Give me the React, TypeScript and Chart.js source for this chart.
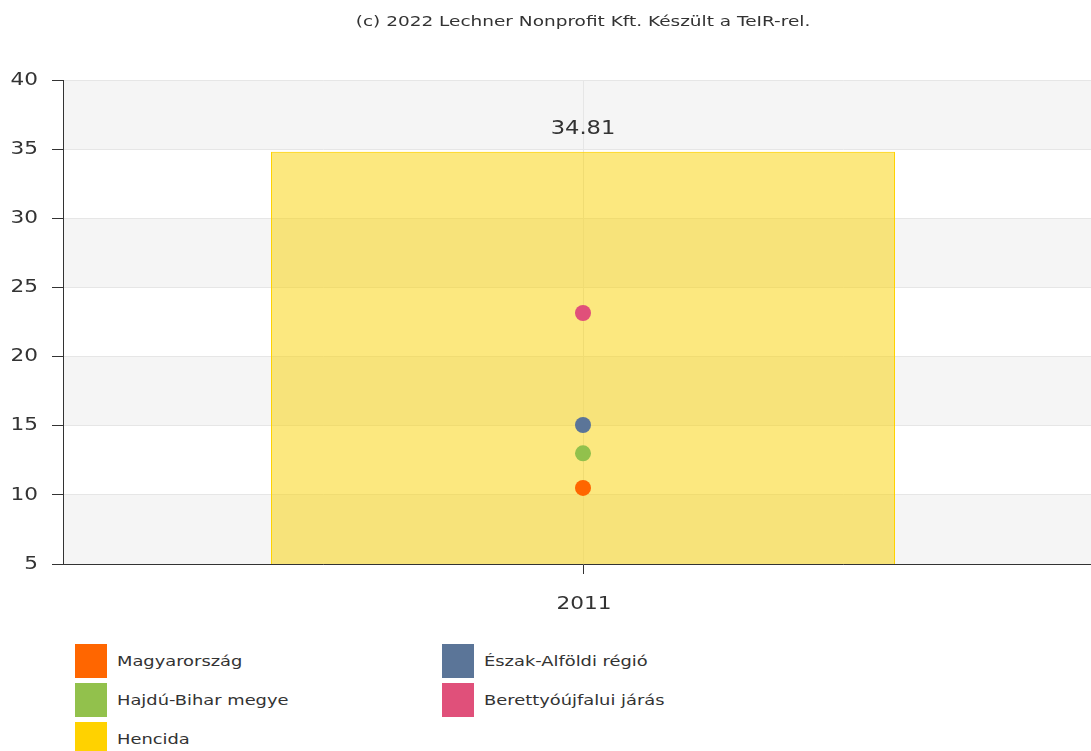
import React, { useEffect, useRef } from "react";
import { Chart, registerables } from "chart.js";

Chart.register(...registerables);

const categories = ["2011"];
const henicda = [34.81];
const magyarorszag = [10.5];
const hajduBihar = [13.0];
const eszakAlfold = [15.05];
const berettyo = [23.15];
const yTicks = [5, 10, 15, 20, 25, 30, 35, 40];
const titleText = "(c) 2022 Lechner Nonprofit Kft. Készült a TeIR-rel.";

const legendItems = [
  { label: "Magyarország", color: "#ff6600" },
  { label: "Észak-Alföldi régió", color: "#5b7598" },
  { label: "Hajdú-Bihar megye", color: "#92c14c" },
  { label: "Berettyóújfalui járás", color: "#e0507a" },
  { label: "Hencida", color: "#ffd200" },
];

const FONT = "DejaVu Sans";

function wideText(ctx: CanvasRenderingContext2D, text: string, x: number, y: number, sx: number, align: CanvasTextAlign) {
  ctx.save();
  ctx.translate(x, y);
  ctx.scale(sx, 1);
  ctx.textAlign = align;
  ctx.textBaseline = "middle";
  ctx.fillText(text, 0, 0);
  ctx.restore();
}

export default function App() {
  const ref = useRef<HTMLCanvasElement>(null);

  useEffect(() => {
    if (!ref.current) return;
    const bands = {
      id: "bands",
      beforeDraw(chart: any) {
        const { ctx, chartArea } = chart;
        const y = chart.scales.y;
        ctx.save();
        ctx.fillStyle = "#f5f5f5";
        for (let i = 0; i < yTicks.length - 1; i += 2) {
          const top = y.getPixelForValue(yTicks[i + 1]);
          const bot = y.getPixelForValue(yTicks[i]);
          ctx.fillRect(chartArea.left, top, chartArea.right - chartArea.left, bot - top);
        }
        ctx.restore();
      },
    };
    const labels = {
      id: "labels",
      afterDatasetsDraw(chart: any) {
        const { ctx, chartArea } = chart;
        const xs = chart.scales.x;
        const ys = chart.scales.y;
        ctx.save();
        ctx.fillStyle = "#333";
        ctx.font = `14px "${FONT}"`;
        wideText(ctx, titleText, (chartArea.left + chartArea.right) / 2, 22, 1.32, "center");
        ctx.font = `18px "${FONT}"`;
        ys.ticks.forEach((t: any) => {
          wideText(ctx, String(t.value), 38, ys.getPixelForValue(t.value), 1.2, "right");
        });
        categories.forEach((c, i) => {
          wideText(ctx, c, xs.getPixelForValue(i) + 1, 604, 1.2, "center");
        });
        const meta = chart.getDatasetMeta(0);
        ctx.font = `19px "${FONT}"`;
        meta.data.forEach((bar: any, i: number) => {
          wideText(ctx, henicda[i].toFixed(2), bar.x, bar.y - 23, 1.19, "center");
        });
        ctx.restore();
      },
    };
    const pointDs = (label: string, data: number[], color: string) => ({
      type: "line" as const,
      label,
      data,
      showLine: false,
      pointRadius: 8,
      pointHoverRadius: 8,
      pointBackgroundColor: color,
      pointBorderWidth: 0,
      borderColor: color,
      backgroundColor: color,
      order: 1,
    });
    const chart = new Chart(ref.current, {
      type: "bar",
      data: {
        labels: categories,
        datasets: [
          {
            type: "bar",
            label: "Hencida",
            data: henicda,
            backgroundColor: "rgba(250,210,0,0.5)",
            borderColor: "#ffd200",
            borderWidth: 1,
            barPercentage: 0.6,
            categoryPercentage: 1,
            order: 2,
          } as any,
          pointDs("Magyarország", magyarorszag, "#ff6600"),
          pointDs("Hajdú-Bihar megye", hajduBihar, "#92c14c"),
          pointDs("Észak-Alföldi régió", eszakAlfold, "#5b7598"),
          pointDs("Berettyóújfalui járás", berettyo, "#e0507a"),
        ],
      },
      options: {
        responsive: false,
        maintainAspectRatio: false,
        animation: false,
        layout: { padding: { top: 80, left: 0, right: 63, bottom: 0 } },
        plugins: { legend: { display: false }, tooltip: { enabled: false }, title: { display: false } },
        scales: {
          x: {
            offset: true,
            grid: { offset: false, color: "#e6e6e6", tickColor: "#333", tickLength: 10 },
            border: { display: true, color: "#333", width: 1 },
            ticks: { display: false },
            afterFit(scale: any) {
              scale.height = 66;
            },
          },
          y: {
            min: 5,
            max: 40,
            ticks: { stepSize: 5, display: false },
            grid: { color: "#e6e6e6", tickColor: "#333", tickLength: 11 },
            border: { display: true, color: "#333", width: 1 },
            afterFit(scale: any) {
              scale.width = 63;
            },
          },
        },
      },
      plugins: [bands, labels],
    });
    return () => chart.destroy();
  }, []);

  const colLeft = [75, 442];
  return (
    <div style={{ position: "fixed", left: 0, top: 0, width: 1091, height: 751, overflow: "hidden", background: "#fff" }}>
      <canvas ref={ref} width={1166} height={630} style={{ position: "absolute", left: 0, top: 0, width: 1166, height: 630 }} />
      {legendItems.map((it, i) => {
        const col = i === 4 ? 0 : i % 2;
        const row = Math.floor(i / 2);
        const top = 644 + row * 39;
        return (
          <div key={it.label} style={{ position: "absolute", left: colLeft[col], top, height: 34, display: "flex", alignItems: "center" }}>
            <div style={{ width: 32, height: 34, background: it.color, marginRight: 10 }} />
            <span
              style={{
                display: "inline-block",
                fontFamily: FONT,
                fontSize: 14,
                color: "#333",
                whiteSpace: "nowrap",
                transform: "scaleX(1.275)",
                transformOrigin: "left center",
              }}
            >
              {it.label}
            </span>
          </div>
        );
      })}
    </div>
  );
}
